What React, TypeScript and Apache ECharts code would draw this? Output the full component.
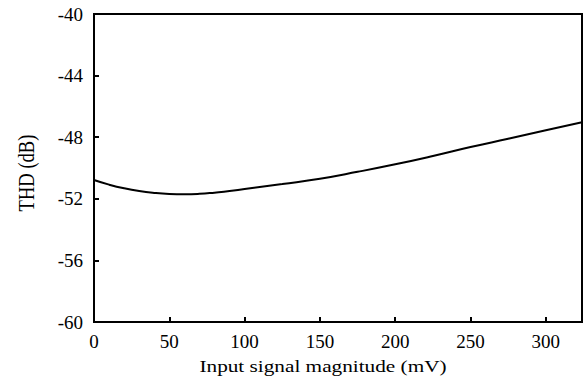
import React, { useEffect, useRef } from "react";
import * as echarts from "echarts";

const xValues = [0, 10, 20, 30, 40, 50, 60, 70, 80, 90, 100, 110, 125, 150, 175, 200, 225, 250, 275, 300, 324];
const thdValues = [-50.78, -51.08, -51.32, -51.5, -51.62, -51.69, -51.71, -51.68, -51.6, -51.5, -51.36, -51.23, -51.04, -50.7, -50.25, -49.76, -49.22, -48.64, -48.1, -47.55, -47.03];
const xAxisTitle = "Input signal magnitude (mV)";
const yAxisTitle = "THD (dB)";

export default function App() {
  const ref = useRef<HTMLDivElement>(null);
  useEffect(() => {
    if (!ref.current) return;
    const chart = echarts.init(ref.current, null, { renderer: "svg" });
    const font = "Liberation Serif, Times New Roman, serif";
    chart.setOption({
      animation: false,
      backgroundColor: "#fff",
      textStyle: { fontFamily: font },
      grid: {
        left: 94,
        top: 14,
        right: 3,
        bottom: 56,
        show: true,
        borderColor: "#000",
        borderWidth: 2,
        backgroundColor: "transparent",
      },
      xAxis: {
        type: "value",
        min: 0,
        max: 324,
        interval: 50,
        axisLine: { show: true, lineStyle: { color: "#000", width: 2 } },
        axisTick: { show: true, inside: true, length: 5, lineStyle: { color: "#000", width: 2 } },
        splitLine: { show: false },
        axisLabel: {
          showMaxLabel: false,
          color: "#000",
          fontFamily: font,
          fontSize: 19,
          margin: 10,
        },
      },
      yAxis: {
        type: "value",
        min: -60,
        max: -40,
        interval: 4,
        axisLine: { show: true, lineStyle: { color: "#000", width: 2 } },
        axisTick: { show: true, inside: true, length: 5, lineStyle: { color: "#000", width: 2 } },
        splitLine: { show: false },
        axisLabel: {
          color: "#000",
          fontFamily: font,
          fontSize: 19,
          margin: 11,
        },
      },
      graphic: [
        {
          type: "text",
          x: 323,
          y: 366,
          scaleX: 1.2,
          style: {
            text: xAxisTitle,
            fill: "#000",
            fontFamily: font,
            fontSize: 17.7,
            textAlign: "center",
            textVerticalAlign: "middle",
          },
        },
        {
          type: "text",
          x: 26,
          y: 173,
          rotation: Math.PI / 2,
          scaleY: 1.2,
          style: {
            text: yAxisTitle,
            fill: "#000",
            fontFamily: font,
            fontSize: 18.6,
            textAlign: "center",
            textVerticalAlign: "middle",
          },
        },
      ],
      series: [
        {
          type: "line",
          data: xValues.map((x, i) => [x, thdValues[i]]),
          smooth: true,
          showSymbol: false,
          lineStyle: { color: "#000", width: 2 },
        },
      ],
    });
    return () => chart.dispose();
  }, []);
  return <div ref={ref} style={{ position: "fixed", left: 0, top: 0, width: 585, height: 378 }} />;
}
